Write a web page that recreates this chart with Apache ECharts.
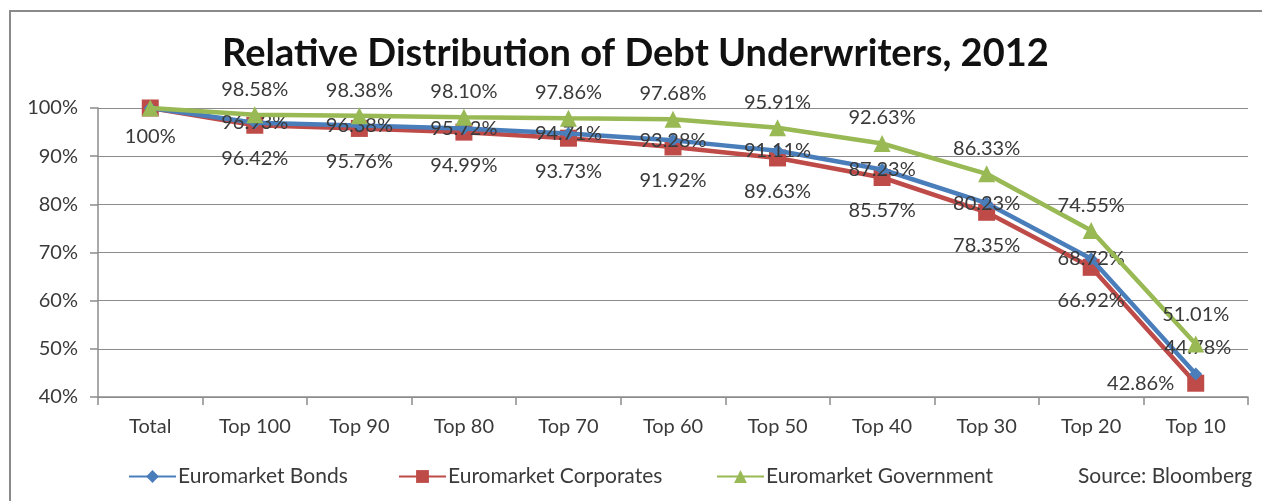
<!DOCTYPE html>
<html><head><meta charset="utf-8">
<script src="https://cdn.jsdelivr.net/npm/echarts@6/dist/echarts.min.js"></script>
<style>html,body{margin:0;padding:0;background:#fff}#c{width:1262px;height:501px}</style>
</head><body><div id="c"></div>
<script>
const categories = ['Total','Top 100','Top 90','Top 80','Top 70','Top 60','Top 50','Top 40','Top 30','Top 20','Top 10'];
const bonds = [100, 96.93, 96.38, 95.72, 94.71, 93.28, 91.11, 87.23, 80.23, 68.72, 44.78];
const corporates = [100, 96.42, 95.76, 94.99, 93.73, 91.92, 89.63, 85.57, 78.35, 66.92, 42.86];
const government = [100, 98.58, 98.38, 98.10, 97.86, 97.68, 95.91, 92.63, 86.33, 74.55, 51.01];
const yTicks = [40, 50, 60, 70, 80, 90, 100];

const FONT = 'Lato';
const TXT = '#3a3a3a';
const fmt = v => (v === 100 ? '100%' : v.toFixed(2) + '%');

function build(values, overrides) {
  return values.map((v, i) => {
    const o = { value: v };
    if (overrides[i]) o.label = overrides[i];
    return o;
  });
}

const labelBase = { show: true, color: TXT, fontFamily: FONT, fontSize: 20, formatter: p => fmt(p.value) };
const legendText = { fontFamily: FONT, fontSize: 21, color: TXT, padding: [0, 0, 0, -3] };

const chart = echarts.init(document.getElementById('c'), null, { renderer: 'canvas' });
chart.setOption({
  animation: false,
  backgroundColor: '#fff',
  title: {
    text: 'Relative Distribution of Debt Underwriters, 2012',
    left: 222, top: 35, padding: 0,
    textStyle: { fontFamily: FONT, fontWeight: 'bold', fontSize: 38, color: '#111' }
  },
  graphic: [
    { type: 'rect', shape: { x: 10, y: 11, width: 1270, height: 510 }, style: { fill: 'none', stroke: '#8a8a8a', lineWidth: 2 }, silent: true },
    { type: 'text', left: 1078, top: 466, style: { text: 'Source: Bloomberg', fontFamily: FONT, fontSize: 21, fill: TXT } }
  ],
  legend: [
    { data: ['Euromarket Bonds'], left: 128, top: 466, padding: 0, itemWidth: 47, itemHeight: 16, textStyle: legendText },
    { data: ['Euromarket Corporates'], left: 398, top: 466, padding: 0, itemWidth: 47, itemHeight: 16, textStyle: legendText },
    { data: ['Euromarket Government'], left: 716, top: 466, padding: 0, itemWidth: 47, itemHeight: 16, textStyle: legendText }
  ],
  grid: { left: 98, right: 14, top: 108, bottom: 104, containLabel: false },
  xAxis: {
    type: 'category', data: categories, boundaryGap: true,
    axisLine: { lineStyle: { color: '#8c8c8c', width: 1.5 } },
    axisTick: { show: true, length: 8, lineStyle: { color: '#8c8c8c', width: 1.5 } },
    axisLabel: { color: TXT, fontFamily: FONT, fontSize: 20, margin: 20 }
  },
  yAxis: {
    type: 'value', min: yTicks[0], max: yTicks[yTicks.length - 1], interval: 10,
    axisLine: { show: true, lineStyle: { color: '#8c8c8c', width: 1.5 } },
    axisTick: { show: true, length: 8, lineStyle: { color: '#8c8c8c', width: 1.5 } },
    splitLine: { lineStyle: { color: '#8c8c8c', width: 1.2 } },
    axisLabel: { color: TXT, fontFamily: FONT, fontSize: 20, margin: 20, formatter: '{value}%' }
  },
  series: [
    {
      name: 'Euromarket Bonds', type: 'line', z: 3,
      data: build(bonds, { 0: { show: false }, 10: { position: 'top', distance: 10, offset: [2, 0] } }),
      color: '#4a7ebb', lineStyle: { width: 4.5 }, symbol: 'diamond', symbolSize: 13, showAllSymbol: true,
      label: Object.assign({}, labelBase, { position: 'inside' })
    },
    {
      name: 'Euromarket Corporates', type: 'line', z: 2,
      data: build(corporates, { 0: { position: 'bottom', distance: 10 }, 10: { position: 'left', distance: 13 } }),
      color: '#be4b48', lineStyle: { width: 4.5 }, symbol: 'rect', symbolSize: 17, showAllSymbol: true,
      label: Object.assign({}, labelBase, { position: 'bottom', distance: 15 })
    },
    {
      name: 'Euromarket Government', type: 'line', z: 4,
      data: build(government, { 0: { show: false }, 10: { position: 'top', distance: 11, offset: [0, 0] } }),
      color: '#98b954', lineStyle: { width: 4.5 }, symbol: 'triangle', symbolSize: 17, showAllSymbol: true,
      label: Object.assign({}, labelBase, { position: 'top', distance: 7 })
    }
  ]
});
</script></body></html>
